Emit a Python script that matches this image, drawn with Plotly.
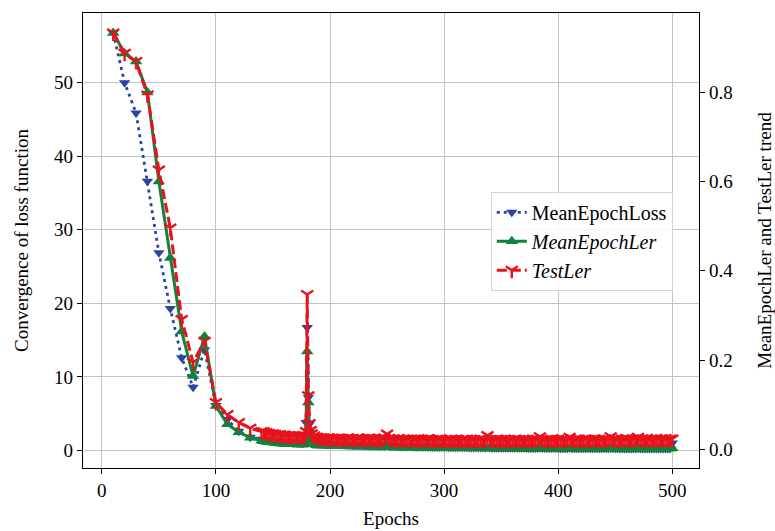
import plotly.graph_objects as go

# ---- data ----
epochs = (list(range(10, 150, 10)) + list(range(142, 177, 2)) +
          [177, 178, 179, 180, 181, 182, 183, 184, 186, 188, 190] +
          list(range(192, 501, 2)))

mean_epoch_loss = [
    56.8, 50.0, 45.9, 36.6, 26.9, 19.3, 12.6, 8.6, 13.7, 6.1, 4.2, 2.6, 1.8, 1.5,
    1.45, 1.4, 1.4, 1.35, 1.3, 1.3, 1.25, 1.25, 1.2, 1.2, 1.15, 1.15, 1.1, 1.1, 1.1, 1.05, 1.05, 1.0,
    1.0, 1.2, 3.8, 16.7, 7.2, 3.6, 2.4, 1.9, 1.5, 1.3, 1.2,
    1.0, 0.97, 0.94, 0.92, 0.9, 0.87, 0.85, 0.83, 0.81, 0.79,
    0.77, 0.76, 0.74, 0.73, 0.71, 0.7, 0.69, 0.68, 0.67, 0.66,
    0.65, 0.64, 0.63, 0.62, 0.61, 0.6, 0.6, 0.59, 0.58, 0.7,
    0.57, 0.56, 0.56, 0.55, 0.54, 0.54, 0.53, 0.53, 0.52, 0.51,
    0.51, 0.5, 0.5, 0.49, 0.49, 0.48, 0.48, 0.47, 0.47, 0.46,
    0.46, 0.45, 0.45, 0.45, 0.44, 0.44, 0.43, 0.43, 0.43, 0.42,
    0.42, 0.42, 0.41, 0.41, 0.41, 0.4, 0.4, 0.4, 0.39, 0.39,
    0.39, 0.38, 0.38, 0.45, 0.38, 0.37, 0.37, 0.37, 0.36, 0.36,
    0.36, 0.36, 0.35, 0.35, 0.35, 0.35, 0.34, 0.34, 0.34, 0.34,
    0.33, 0.33, 0.33, 0.33, 0.32, 0.32, 0.36, 0.32, 0.32, 0.31,
    0.31, 0.31, 0.31, 0.31, 0.3, 0.3, 0.3, 0.3, 0.3, 0.34,
    0.29, 0.29, 0.29, 0.29, 0.29, 0.29, 0.28, 0.28, 0.28, 0.28,
    0.28, 0.28, 0.28, 0.27, 0.27, 0.27, 0.27, 0.31, 0.27, 0.27,
    0.27, 0.26, 0.26, 0.26, 0.26, 0.26, 0.26, 0.26, 0.26, 0.3,
    0.25, 0.25, 0.25, 0.25, 0.25, 0.25, 0.25, 0.25, 0.25, 0.24,
    0.24, 0.24, 0.24, 0.25, 1.0,
]

mean_epoch_ler = [
    0.933, 0.887, 0.869, 0.80, 0.60, 0.429, 0.264, 0.164, 0.253, 0.097, 0.056, 0.038, 0.026, 0.019,
    0.018, 0.017, 0.016, 0.016, 0.015, 0.014, 0.014, 0.013, 0.013, 0.012, 0.012, 0.012, 0.011, 0.011, 0.011, 0.010, 0.011, 0.010,
    0.011, 0.012, 0.02, 0.219, 0.105, 0.045, 0.025, 0.018, 0.012, 0.009, 0.008,
    0.009, 0.008, 0.009, 0.008, 0.007, 0.008, 0.008, 0.007, 0.008, 0.007,
    0.007, 0.008, 0.007, 0.006, 0.007, 0.007, 0.006, 0.007, 0.006, 0.006,
    0.007, 0.006, 0.006, 0.005, 0.006, 0.006, 0.005, 0.006, 0.005, 0.006,
    0.005, 0.005, 0.006, 0.005, 0.004, 0.005, 0.005, 0.004, 0.005, 0.004,
    0.004, 0.005, 0.004, 0.004, 0.005, 0.004, 0.003, 0.004, 0.004, 0.003,
    0.004, 0.003, 0.004, 0.003, 0.003, 0.004, 0.003, 0.003, 0.002, 0.003,
    0.003, 0.002, 0.003, 0.003, 0.002, 0.003, 0.002, 0.002, 0.003, 0.002,
    0.002, 0.003, 0.002, 0.002, 0.001, 0.002, 0.002, 0.003, 0.002, 0.001,
    0.002, 0.002, 0.001, 0.002, 0.002, 0.001, 0.002, 0.001, 0.002, 0.001,
    0.001, 0.002, 0.001, 0.001, 0.002, 0.001, 0.001, 0.002, 0.001, 0.001,
    0.002, 0.001, 0.001, 0.002, 0.001, 0.000, 0.001, 0.002, 0.001, 0.001,
    0.001, 0.002, 0.001, 0.000, 0.001, 0.001, 0.002, 0.001, 0.001, 0.000,
    0.001, 0.001, 0.002, 0.001, 0.000, 0.001, 0.001, 0.002, 0.001, 0.001,
    0.000, 0.001, 0.002, 0.001, 0.001, 0.000, 0.001, 0.002, 0.001, 0.001,
    0.001, 0.002, 0.001, 0.000, 0.001, 0.001, 0.002, 0.001, 0.001, 0.002,
    0.001, 0.001, 0.002, 0.001, 0.002,
]

test_ler = [
    0.933, 0.888, 0.869, 0.794, 0.626, 0.496, 0.291, 0.195, 0.242, 0.105, 0.078, 0.060, 0.047, 0.040,
    0.039, 0.037, 0.036, 0.034, 0.035, 0.033, 0.032, 0.033, 0.031, 0.032, 0.030, 0.031, 0.029, 0.031, 0.030, 0.029, 0.030, 0.029,
    0.028, 0.029, 0.04, 0.347, 0.12, 0.058, 0.042, 0.035, 0.030, 0.027, 0.026,
    0.026, 0.025, 0.024, 0.026, 0.023, 0.025, 0.024, 0.023, 0.025, 0.024,
    0.022, 0.024, 0.025, 0.023, 0.024, 0.022, 0.025, 0.023, 0.024, 0.022,
    0.023, 0.025, 0.022, 0.024, 0.023, 0.021, 0.024, 0.023, 0.025, 0.034,
    0.024, 0.022, 0.023, 0.021, 0.024, 0.022, 0.023, 0.021, 0.023, 0.022,
    0.021, 0.023, 0.022, 0.020, 0.023, 0.021, 0.022, 0.024, 0.021, 0.022,
    0.020, 0.022, 0.023, 0.021, 0.020, 0.022, 0.021, 0.023, 0.020, 0.022,
    0.021, 0.019, 0.022, 0.021, 0.023, 0.020, 0.021, 0.022, 0.020, 0.021,
    0.023, 0.021, 0.020, 0.031, 0.022, 0.020, 0.021, 0.023, 0.020, 0.022,
    0.021, 0.019, 0.022, 0.020, 0.021, 0.023, 0.020, 0.022, 0.019, 0.021,
    0.022, 0.020, 0.021, 0.023, 0.020, 0.022, 0.028, 0.021, 0.020, 0.022,
    0.021, 0.023, 0.020, 0.021, 0.022, 0.020, 0.023, 0.021, 0.022, 0.027,
    0.021, 0.020, 0.022, 0.023, 0.020, 0.021, 0.023, 0.022, 0.020, 0.022,
    0.023, 0.021, 0.022, 0.020, 0.023, 0.021, 0.022, 0.028, 0.021, 0.023,
    0.022, 0.020, 0.023, 0.021, 0.024, 0.022, 0.021, 0.023, 0.022, 0.027,
    0.021, 0.023, 0.022, 0.024, 0.021, 0.023, 0.022, 0.024, 0.021, 0.023,
    0.022, 0.024, 0.021, 0.023, 0.023,
]

assert len(epochs) == len(mean_epoch_loss) == len(mean_epoch_ler) == len(test_ler)

x_ticks = [0, 100, 200, 300, 400, 500]
left_ticks = [0, 10, 20, 30, 40, 50]
right_ticks = [0.0, 0.2, 0.4, 0.6, 0.8]
right_tick_labels = ["0.0", "0.2", "0.4", "0.6", "0.8"]

BLUE = "#2a44a0"
GREEN = "#11823a"
RED = "#e8121c"
FONT = "Liberation Serif"

fig = go.Figure()
fig.add_trace(go.Scatter(
    x=epochs, y=mean_epoch_loss, name="MeanEpochLoss", mode="lines+markers",
    line=dict(color=BLUE, width=2.8, dash="3px,4px"),
    marker=dict(symbol="triangle-down", size=10, color=BLUE),
    yaxis="y",
))
fig.add_trace(go.Scatter(
    x=epochs, y=mean_epoch_ler, name="<i>MeanEpochLer</i>", mode="lines+markers",
    line=dict(color=GREEN, width=3),
    marker=dict(symbol="triangle-up", size=11, color=GREEN),
    yaxis="y2",
))
fig.add_trace(go.Scatter(
    x=epochs, y=test_ler, name="<i>TestLer</i>", mode="lines+markers",
    line=dict(color=RED, width=3, dash="10px,4px"),
    marker=dict(symbol="y-down", size=10, color=RED, line=dict(color=RED, width=2.4)),
    yaxis="y2",
))

axis_common = dict(
    showline=True, linecolor="black", linewidth=1.2,
    ticks="outside", ticklen=5, tickcolor="black", tickwidth=1.2,
    zeroline=False, automargin=False,
    tickfont=dict(family=FONT, size=19, color="black"),
)

fig.update_layout(
    width=775, height=531, autosize=False,
    margin=dict(l=83, r=76, t=13, b=63),
    paper_bgcolor="white", plot_bgcolor="white",
    font=dict(family=FONT, size=19, color="black"),
    showlegend=True,
    legend=dict(
        x=0.662, y=0.607, xanchor="left", yanchor="top",
        bgcolor="rgba(255,255,255,0.85)", bordercolor="#d4d4d4", borderwidth=1,
        font=dict(family=FONT, size=20, color="black"),
        itemwidth=30, tracegroupgap=0,
    ),
    xaxis=dict(
        **axis_common, mirror=True,
        range=[-16.5, 523.4], tickvals=x_ticks,
        showgrid=True, gridcolor="#c4c4c4", gridwidth=1,
        title=dict(text="Epochs", font=dict(family=FONT, size=19), standoff=11),
    ),
    yaxis=dict(
        **axis_common,
        range=[-2.4, 59.5], tickvals=left_ticks,
        showgrid=True, gridcolor="#c4c4c4", gridwidth=1,
        title=dict(text="Convergence of loss function", font=dict(family=FONT, size=19), standoff=20),
    ),
    yaxis2=dict(
        **axis_common,
        overlaying="y", side="right",
        range=[-0.042, 0.978], tickvals=right_ticks, ticktext=right_tick_labels,
        showgrid=False,
        title=dict(text="MeanEpochLer and TestLer trend", font=dict(family=FONT, size=19), standoff=26),
    ),
)

fig.write_html("out.html", config={"displayModeBar": False},
               post_script="document.body.style.margin='0px';")
